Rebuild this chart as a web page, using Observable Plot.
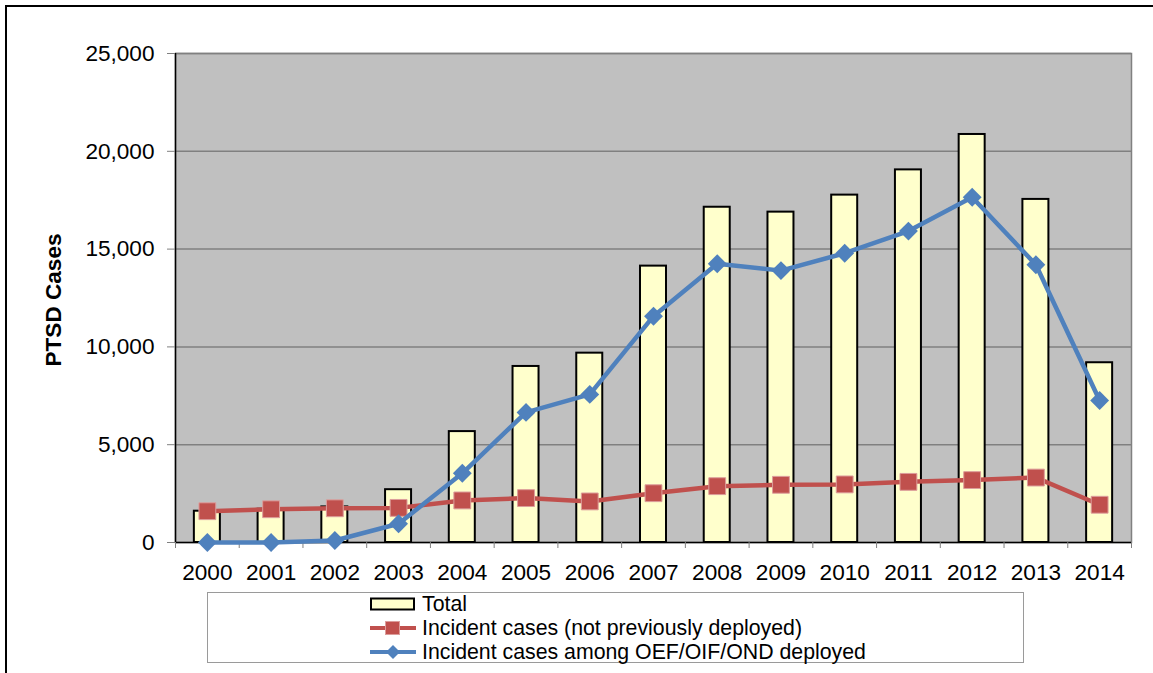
<!DOCTYPE html>
<html>
<head>
<meta charset="utf-8">
<script src="https://cdn.jsdelivr.net/npm/d3@7"></script>
<script src="https://cdn.jsdelivr.net/npm/@observablehq/plot@0.6"></script>
<style>
  html, body { margin: 0; padding: 0; background: #fff; overflow: hidden; width: 1153px; height: 673px; }
  body { font-family: "Liberation Sans", Arial, sans-serif; }
  #outer { position: absolute; left: 5px; top: 5px; width: 1300px; height: 800px; border-left: 2px solid #000; border-top: 2px solid #000; }
  #chart { position: absolute; left: 0; top: 0; }
  #legend { position: absolute; left: 207px; top: 592px; width: 817px; height: 71px; border: 1px solid #9a9a9a; background: #fff; box-sizing: border-box; }
  .row { position: absolute; left: 161px; height: 24px; display: flex; align-items: center; font-size: 21.3px; color: #000; white-space: nowrap; }
  .row svg { margin-right: 5px; }
</style>
</head>
<body>
<div id="outer"></div>
<div id="chart"></div>
<div id="legend"></div>
<script>
// ---- data ----
const years = [2000, 2001, 2002, 2003, 2004, 2005, 2006, 2007, 2008, 2009, 2010, 2011, 2012, 2013, 2014];
const totalCases = [1600, 1700, 1820, 2700, 5670, 9000, 9680, 14130, 17140, 16890, 17760, 19050, 20860, 17540, 9190];
const notDeployedCases = [1600, 1700, 1750, 1770, 2150, 2270, 2100, 2520, 2880, 2950, 2970, 3100, 3190, 3320, 1930];
const deployedCases = [0, 0, 100, 960, 3540, 6650, 7570, 11570, 14250, 13900, 14790, 15920, 17650, 14200, 7260];
const yTicks = [0, 5000, 10000, 15000, 20000, 25000];
const seriesNames = ["Total", "Incident cases (not previously deployed)", "Incident cases among OEF/OIF/OND deployed"];

const data = years.map((year, i) => ({
  year,
  total: totalCases[i],
  notDeployed: notDeployedCases[i],
  deployed: deployedCases[i]
}));
const boundaries = [years[0] - 0.5, ...years.map(y => y + 0.5)];
const halfBar = 0.204;

const chart = Plot.plot({
  width: 1153,
  height: 580,
  marginTop: 53,
  marginLeft: 175,
  marginRight: 22,
  marginBottom: 38,
  style: { fontFamily: "'Liberation Sans', Arial, sans-serif", fontSize: "22.6px", color: "#000", background: "transparent", overflow: "visible" },
  x: { domain: [years[0] - 0.5, years[years.length - 1] + 0.5] },
  y: { domain: [0, 25000] },
  marks: [
    Plot.frame({ fill: "#c0c0c0", stroke: "#808080", strokeWidth: 1.5 }),
    Plot.ruleY(yTicks.filter(d => d > 0), { stroke: "#808080", strokeWidth: 1.5 }),
    Plot.rectY(data, { x1: d => d.year - halfBar, x2: d => d.year + halfBar, y1: 0, y2: "total", fill: "#ffffcc", stroke: "#000", strokeWidth: 2 }),
    Plot.ruleY([0], { stroke: "#000", strokeWidth: 1.5 }),
    Plot.ruleX([boundaries[0]], { stroke: "#000", strokeWidth: 1.5 }),
    Plot.axisY({ ticks: yTicks, tickFormat: d3.format(","), tickSize: 8, tickPadding: 13, stroke: "#808080", label: null }),
    Plot.axisX({ ticks: boundaries, tickSize: 6, tickFormat: () => "", stroke: "#808080", label: null }),
    Plot.axisX({ ticks: years, tickSize: 0, tickPadding: 21, tickFormat: d => String(d), label: null }),
    Plot.line(data, { x: "year", y: "notDeployed", stroke: "#c0504d", strokeWidth: 4.5 }),
    Plot.dot(data, { x: "year", y: "notDeployed", symbol: "square", r: 9.5, fill: "#c0504d", stroke: "#dc9d9b", strokeWidth: 1 }),
    Plot.line(data, { x: "year", y: "deployed", stroke: "#4f81bd", strokeWidth: 4.5 }),
    Plot.dot(data, { x: "year", y: "deployed", symbol: "diamond2", r: 8.5, fill: "#4f81bd" }),
    Plot.text(["PTSD Cases"], { frameAnchor: "left", dx: -122, dy: 2, rotate: -90, textAnchor: "middle", fontWeight: "bold", fontSize: 22.6 })
  ]
});
document.getElementById("chart").appendChild(chart);

// ---- legend ----
const legend = document.getElementById("legend");
const swatches = [
  `<svg width="48" height="20"><rect x="2" y="4.5" width="43" height="11" fill="#ffffcc" stroke="#000" stroke-width="2"/></svg>`,
  `<svg width="48" height="20"><line x1="1" y1="10" x2="47" y2="10" stroke="#c0504d" stroke-width="4"/><rect x="16.5" y="3.5" width="14" height="13" fill="#c0504d" stroke="#dc9d9b" stroke-width="1"/></svg>`,
  `<svg width="48" height="20"><line x1="1" y1="10" x2="47" y2="10" stroke="#4f81bd" stroke-width="4"/><path d="M24 3 L31 10 L24 17 L17 10 Z" fill="#4f81bd"/></svg>`
];
seriesNames.forEach((name, i) => {
  const row = document.createElement("div");
  row.className = "row";
  row.style.top = (-1 + i * 24) + "px";
  row.innerHTML = swatches[i] + `<span>${name}</span>`;
  legend.appendChild(row);
});
</script>
</body>
</html>
